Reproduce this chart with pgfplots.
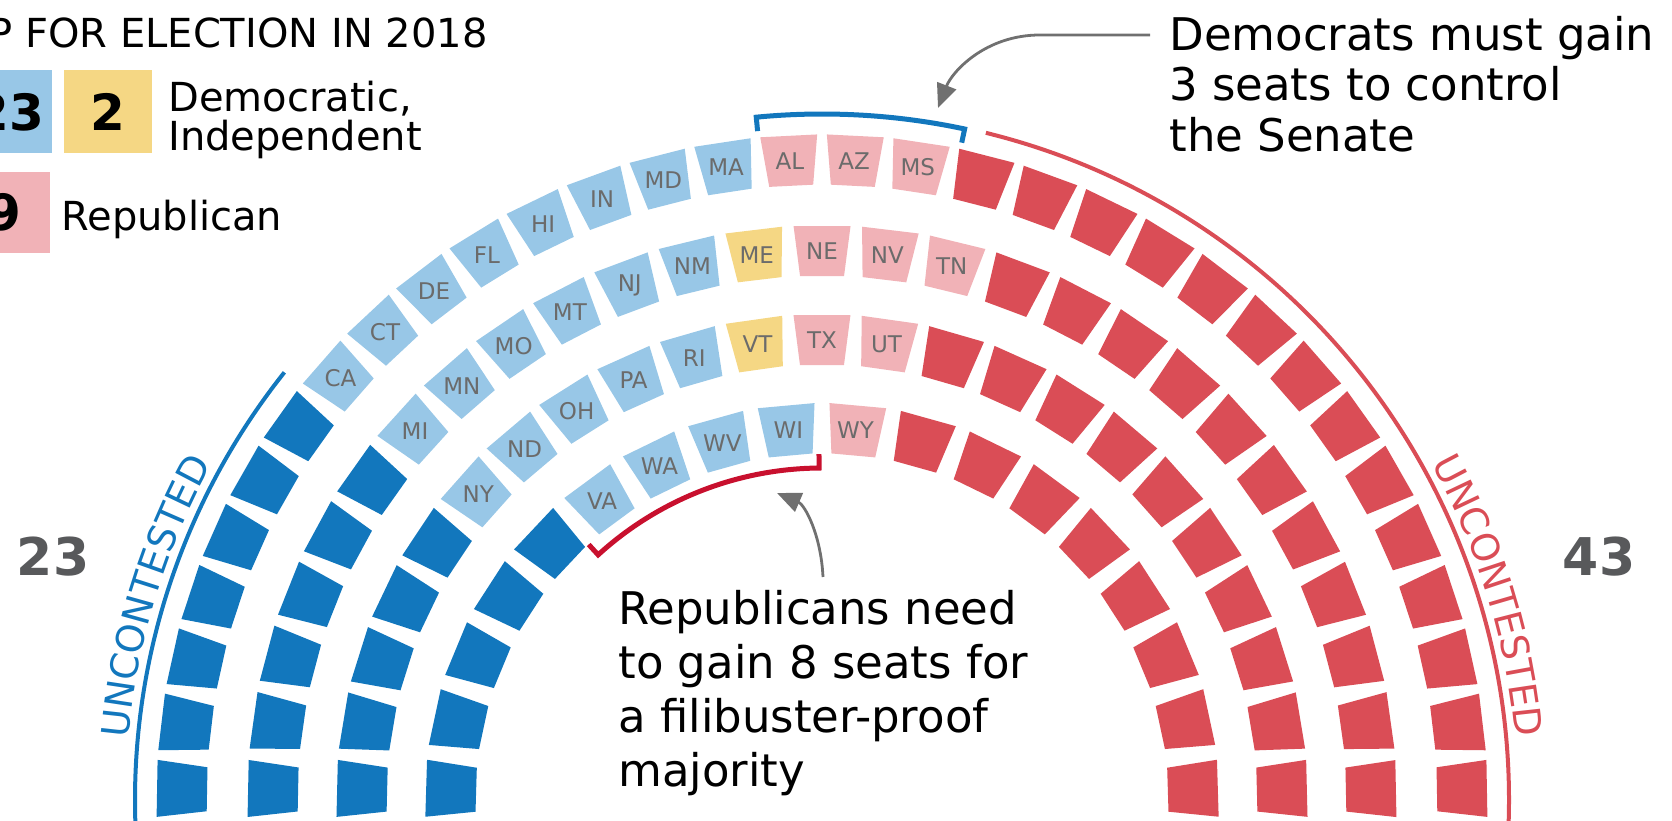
\documentclass[border=0pt]{standalone}
\usepackage{pgfplots}
\pgfplotsset{compat=1.18}
\usepackage{fontspec}
\setmainfont{DejaVu Sans}
\usetikzlibrary{arrows.meta,decorations.text}

\definecolor{cDark}{HTML}{1277BD}
\definecolor{cLight}{HTML}{98C7E7}
\definecolor{cYel}{HTML}{F5D784}
\definecolor{cPink}{HTML}{F1B2B7}
\definecolor{cRed}{HTML}{DA4D56}
\definecolor{cLab}{HTML}{6B6B6B}
\definecolor{cArrow}{HTML}{707070}
\definecolor{cCrim}{HTML}{C8102E}
\definecolor{cNum}{HTML}{58595B}

\newcommand\fT{\fontsize{20pt}{24pt}\selectfont}
\newcommand\fL{\fontsize{20pt}{24pt}\selectfont}
\newcommand\fA{\fontsize{22.5pt}{26pt}\selectfont}
\newcommand\fN{\fontsize{25pt}{30pt}\selectfont\bfseries}
\newcommand\fB{\fontsize{26pt}{30pt}\selectfont\bfseries}
\newcommand\uncfont{\fontsize{19pt}{19pt}\selectfont}

% one seat: trapezoid, wide side outwards, turned to its angle
\def\seatshape{%
  \begingroup\pgfkeys{/pgf/fpu=false}%
  \pgfmathsetmacro\seatrot{90-\dd-\kk*\ss}%
  \xdef\seatrotg{\seatrot}\endgroup
  \pgfscope
  \pgftransformrotate{\seatrotg}%
  \pgfpathmoveto{\pgfqpoint{-14.25pt}{12.5pt}}%
  \pgfpathlineto{\pgfqpoint{14.25pt}{12.5pt}}%
  \pgfpathlineto{\pgfqpoint{11pt}{-12.5pt}}%
  \pgfpathlineto{\pgfqpoint{-11pt}{-12.5pt}}%
  \pgfpathclose
  \pgfusepathqfill
  \endpgfscope}
\pgfdeclareplotmark{seat}{\seatshape}
\pgfdeclareplotmark{seatl}{\seatshape
  \pgftext{\fontsize{11.5pt}{12pt}\selectfont\color{cLab}\slab}}

% rings: radius, angle offset, angle step (centre of the half circle at 822,20)
\pgfkeys{/pgfplots/table/.cd,
  ring/.style n args={3}{row sep=\\,
    x expr={822+#1*cos(180-#2-\thisrow{k}*#3)},
    y expr={20+#1*sin(180-#2-\thisrow{k}*#3)}},
  rA/.style={ring={640}{1.0}{5.742}},
  rB/.style={ring={549}{1.15}{6.835}},
  rC/.style={ring={460}{1.37}{8.057}},
  rD/.style={ring={371}{1.7}{10.388}},
}
\pgfplotsset{
  seat/.style n args={3}{only marks, scatter, mark=seat,
    scatter/use mapped color={draw=none,fill=#3},
    visualization depends on={value \thisrow{k}\as\kk},
    visualization depends on={value #1\as\dd},
    visualization depends on={value #2\as\ss}},
  sA/.style={seat={1.0}{5.742}{#1}},
  sB/.style={seat={1.15}{6.835}{#1}},
  sC/.style={seat={1.37}{8.057}{#1}},
  sD/.style={seat={1.7}{10.388}{#1}},
  lab/.style={mark=seatl, visualization depends on={value \thisrow{lab}\as\slab}},
}

\begin{document}
\begin{tikzpicture}
\begin{axis}[
  width=836pt, height=410pt, scale only axis,
  xmin=0, xmax=1672, ymin=0, ymax=820,
  hide axis, clip=false,
]
\coordinate (bl) at (rel axis cs:0,0);
\coordinate (tr) at (rel axis cs:1,1);

% outer ring, 32 seats
\addplot[sA=cDark] table[rA] {k\\0\\1\\2\\3\\4\\5\\6\\};
\addplot[sA=cLight,lab] table[rA] {k lab\\7 CA\\8 CT\\9 DE\\10 FL\\11 HI\\12 IN\\13 MD\\14 MA\\};
\addplot[sA=cPink,lab] table[rA] {k lab\\15 AL\\16 AZ\\17 MS\\};
\addplot[sA=cRed] table[rA] {k\\18\\19\\20\\21\\22\\23\\24\\25\\26\\27\\28\\29\\30\\31\\};

% second ring, 27 seats
\addplot[sB=cDark] table[rB] {k\\0\\1\\2\\3\\4\\5\\};
\addplot[sB=cLight,lab] table[rB] {k lab\\6 MI\\7 MN\\8 MO\\9 MT\\10 NJ\\11 NM\\};
\addplot[sB=cYel,lab] table[rB] {k lab\\12 ME\\};
\addplot[sB=cPink,lab] table[rB] {k lab\\13 NE\\14 NV\\15 TN\\};
\addplot[sB=cRed] table[rB] {k\\16\\17\\18\\19\\20\\21\\22\\23\\24\\25\\26\\};

% third ring, 23 seats
\addplot[sC=cDark] table[rC] {k\\0\\1\\2\\3\\4\\};
\addplot[sC=cLight,lab] table[rC] {k lab\\5 NY\\6 ND\\7 OH\\8 PA\\9 RI\\};
\addplot[sC=cYel,lab] table[rC] {k lab\\10 VT\\};
\addplot[sC=cPink,lab] table[rC] {k lab\\11 TX\\12 UT\\};
\addplot[sC=cRed] table[rC] {k\\13\\14\\15\\16\\17\\18\\19\\20\\21\\22\\};

% inner ring, 18 seats
\addplot[sD=cDark] table[rD] {k\\0\\1\\2\\3\\4\\};
\addplot[sD=cLight,lab] table[rD] {k lab\\5 VA\\6 WA\\7 WV\\8 WI\\};
\addplot[sD=cPink,lab] table[rD] {k lab\\9 WY\\};
\addplot[sD=cRed] table[rD] {k\\10\\11\\12\\13\\14\\15\\16\\17\\};

% uncontested arcs and their labels
\draw[cDark, line width=2pt] ({822+687*cos(182)},{20+687*sin(182)}) arc[start angle=182, end angle=141.5, radius=343.5pt];
\draw[cRed, line width=2pt] ({822+687*cos(76.2)},{20+687*sin(76.2)}) arc[start angle=76.2, end angle=-2, radius=343.5pt];
\path[decorate, decoration={text along path, text align=center,
  text={|\uncfont\color{cDark}|UNCONTESTED}}]
  ({822+696*cos(176)},{20+696*sin(176)}) arc[start angle=176, end angle=150, radius=348pt];
\path[decorate, decoration={text along path, text align=center,
  text={|\uncfont\color{cRed}|UNCONTESTED}}]
  ({822+696*cos(30)},{20+696*sin(30)}) arc[start angle=30, end angle=4, radius=348pt];

% brackets
\draw[cDark, line width=2.5pt] ({822+672*cos(95.5)},{20+672*sin(95.5)}) -- ({822+686*cos(95.5)},{20+686*sin(95.5)})
  arc[start angle=95.5, end angle=78, radius=343pt] -- ({822+672*cos(78)},{20+672*sin(78)});
\draw[cCrim, line width=2.5pt] ({822+346*cos(132.4)},{20+346*sin(132.4)}) -- ({822+332*cos(132.4)},{20+332*sin(132.4)})
  arc[start angle=132.4, end angle=90.5, radius=166pt] -- ({822+346*cos(90.5)},{20+346*sin(90.5)});

% arrows
\draw[cArrow, line width=1.4pt, -{Triangle[length=12pt,width=10pt]}]
  (1150,785) -- (1040,785) .. controls (985,785) and (952,748) .. (938,712);
\draw[cArrow, line width=1.4pt, -{Triangle[length=12pt,width=10pt]}]
  (823,243) .. controls (821,285) and (805,315) .. (777,327);

% legend
\node[anchor=base east, inner sep=0, font=\fT] at (488,772) {UP FOR ELECTION IN 2018};
\fill[cLight] (-36,750) rectangle (52,667);
\fill[cYel] (64,750) rectangle (152,667);
\fill[cPink] (-38,648) rectangle (50,567);
\node[inner sep=0, font=\fN] at (9,708) {23};
\node[inner sep=0, font=\fN] at (108,708) {2};
\node[inner sep=0, font=\fN] at (4,608) {9};
\node[anchor=base west, inner sep=0, font=\fL] at (168,708) {Democratic,};
\node[anchor=base west, inner sep=0, font=\fL] at (168,669) {Independent};
\node[anchor=base west, inner sep=0, font=\fL] at (61,589) {Republican};

% totals
\node[inner sep=0, font=\fB, text=cNum] at (53,263) {23};
\node[inner sep=0, font=\fB, text=cNum] at (1599,263) {43};

% notes
\node[anchor=base west, inner sep=0, font=\fA] at (1169,769) {Democrats must gain};
\node[anchor=base west, inner sep=0, font=\fA] at (1169,719) {3 seats to control};
\node[anchor=base west, inner sep=0, font=\fA] at (1169,668) {the Senate};
\node[anchor=base west, inner sep=0, font=\fA] at (618,195) {Republicans need};
\node[anchor=base west, inner sep=0, font=\fA] at (618,141) {to gain 8 seats for};
\node[anchor=base west, inner sep=0, font=\fA] at (618,87) {a filibuster-proof};
\node[anchor=base west, inner sep=0, font=\fA] at (618,33) {majority};
\end{axis}
\pgfresetboundingbox
\path (bl) rectangle (tr);
\end{tikzpicture}
\end{document}
